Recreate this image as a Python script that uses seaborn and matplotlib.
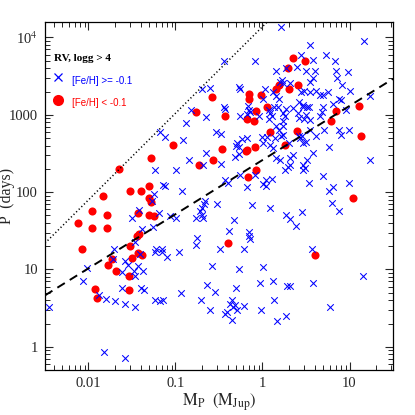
import numpy as np
import pandas as pd
import matplotlib
matplotlib.use("Agg")
import matplotlib.pyplot as plt
import seaborn as sns

# ---- data (log10 values) ----
red_log_mass = [-1.65, -1.83, -1.96, -1.79, -2.12, -1.96, -1.79, -2.07, -1.28, -1.03,
                -1.52, -1.40, -1.30, -1.30, -1.28, -1.43, -1.30, -1.25, -1.42, -1.44,
                -1.52, -1.73, -1.78, -1.68, -1.54, -1.53, -1.93, -1.90, -1.50, -1.43,
                -1.39, -0.58, -0.77, -0.43, -0.16, -0.15, -0.02, -0.07, 0.05, -0.18,
                -0.10, 0.09, 0.35, 0.49, 0.29, 0.19, 0.16, 0.30, 0.41, 0.84,
                1.11, 0.79, 0.40, 1.13, 0.26, 1.04, 0.60, -0.09, -0.18, -0.19,
                -0.47, -0.57, -0.73, -0.07, -0.17, -0.40]
red_log_period = [2.30, 1.95, 1.76, 1.71, 1.60, 1.54, 1.53, 1.27, 2.44, 2.61,
                  2.02, 2.01, 2.08, 1.92, 1.87, 1.73, 1.71, 1.69, 1.46, 1.43,
                  1.31, 1.14, 1.06, 0.98, 0.91, 0.73, 0.75, 0.63, 1.15, 1.21,
                  1.19, 3.23, 3.04, 2.98, 3.27, 3.21, 3.26, 3.05, 3.10, 2.95,
                  2.92, 2.78, 3.74, 3.69, 3.60, 3.39, 3.33, 3.34, 3.39, 3.05,
                  3.11, 2.92, 2.79, 2.72, 2.61, 1.92, 1.19, 2.59, 2.55, 2.53,
                  2.56, 2.42, 2.35, 2.29, 2.19, 1.34]

blue_log_mass = [0.21, 0.55, 1.17, -0.44, -0.09, 0.44, 0.58, 0.73, 0.83, -0.70,
                 -0.60, -0.27, -0.26, 0.03, 0.01, 0.16, 0.27, 0.40, 0.50, 0.60,
                 0.85, 0.98, 0.58, 0.55, 0.86, 0.22, 0.20, 0.23, 0.32, 0.91,
                 0.48, 0.44, 0.55, 0.61, 0.66, 0.75, 0.70, 1.01, 1.24, 0.88,
                 0.90, 0.12, 0.16, 0.19, -0.82, -0.65, -0.44, -0.43, -0.88, -1.18,
                 -1.12, -0.53, -0.48, -0.91, -0.17, -0.16, -0.14, -0.18, -0.04, -0.26,
                 0.07, 0.09, 0.13, 0.08, 0.18, -0.24, -0.18, -0.01, 0.05, 0.16,
                 0.27, 0.35, 0.42, 0.47, 0.46, 0.51, 0.54, 0.70, 0.81, 0.96,
                 0.24, 0.26, 0.41, 0.42, 0.50, 0.48, 0.68, 0.66, 0.55, 0.23,
                 0.24, 0.11, 0.19, 0.23, 0.21, 0.55, 0.71, 0.88, 0.99, 0.45,
                 0.42, 0.90, 0.62, 0.14, -0.29, -0.30, -0.27, 0.01, 0.09, 0.12,
                 0.30, 0.43, 0.47, 0.50, 0.35, 0.32, 0.16, 0.20, 0.58, 0.76,
                 1.24, 0.32, 0.29, 0.26, 0.51, 0.47, 0.49, 0.46, 0.70, 0.11,
                 0.53, 0.99, 0.81, 0.77, 0.80, 0.88, 0.09, 0.45, 0.27, 0.32,
                 0.39, 0.57, -0.65, -0.84, -0.99, -1.24, -0.68, -0.48, -0.27, -0.32,
                 -1.14, -1.12, -0.92, -1.25, -0.43, -0.40, -0.26, -0.18, -0.09, 0.04,
                 0.01, 0.04, -0.66, -0.67, -1.27, -0.52, -0.12, -0.70, -0.72, -0.69,
                 -0.76, -0.68, -1.19, -1.06, -0.99, -0.33, -1.26, -0.39, -0.16, -0.15,
                 -0.14, -0.75, -0.76, -0.49, -0.21, -1.22, -1.16, -1.42, -1.50, -1.38,
                 -1.47, -1.71, -2.02, -2.06, -2.45, -1.72, -1.58, -1.55, -1.62, -1.48,
                 -1.43, -1.37, -1.47, -1.62, -1.40, -1.36, -1.88, -1.80, -1.70, -1.58,
                 -1.46, -1.24, -1.18, -1.14, -1.82, -1.58, -1.24, -1.16, -1.10, -1.41,
                 -0.96, -0.58, -0.27, 0.01, -0.64, -0.55, -0.30, -0.03, 0.12, -0.94,
                 -0.71, -0.60, -0.35, -0.37, -0.32, -0.34, -0.41, -0.43, -0.29, -0.21,
                 -0.02, 0.13, -0.35, 0.17, 0.28, 0.32, 0.58, 1.16, 0.78, 0.27]
blue_log_period = [4.14, 3.90, 3.95, 3.69, 3.69, 3.77, 3.71, 3.77, 3.69, 3.34,
                   3.35, 3.36, 3.33, 3.34, 3.21, 3.57, 3.60, 3.62, 3.56, 3.56,
                   3.56, 3.55, 3.47, 3.43, 3.47, 3.45, 3.42, 3.41, 3.41, 3.39,
                   3.31, 3.29, 3.29, 3.31, 3.25, 3.29, 3.26, 3.31, 3.24, 3.21,
                   3.19, 3.30, 3.24, 3.20, 3.06, 2.97, 3.10, 3.08, 2.89, 2.78,
                   2.71, 2.78, 2.75, 2.68, 3.11, 3.06, 3.03, 3.01, 2.98, 2.98,
                   3.06, 3.02, 3.10, 2.95, 3.10, 2.69, 2.70, 2.71, 2.71, 2.85,
                   3.08, 3.09, 3.17, 3.13, 3.10, 3.10, 3.10, 3.10, 3.14, 3.06,
                   3.02, 2.98, 3.02, 2.96, 3.00, 2.95, 3.03, 2.98, 2.93, 2.92,
                   2.86, 2.98, 2.80, 2.74, 2.73, 2.80, 2.80, 2.80, 2.80, 2.72,
                   2.72, 2.74, 2.72, 2.70, 2.64, 2.60, 2.59, 2.63, 2.61, 2.57,
                   2.63, 2.70, 2.63, 2.65, 2.48, 2.44, 2.44, 2.41, 2.51, 2.59,
                   2.41, 2.35, 2.32, 2.29, 2.41, 2.35, 2.31, 2.28, 2.21, 2.17,
                   2.12, 2.12, 2.06, 2.01, 1.86, 1.76, 1.80, 1.74, 1.70, 1.65,
                   1.56, 1.27, 2.51, 2.41, 2.28, 2.29, 2.35, 2.37, 2.49, 2.45,
                   2.09, 2.08, 2.02, 1.98, 2.16, 2.12, 2.22, 2.07, 2.22, 2.16,
                   2.11, 2.08, 1.88, 1.85, 1.88, 1.85, 1.83, 1.79, 1.75, 1.70,
                   1.67, 1.67, 1.73, 1.69, 1.67, 1.64, 1.55, 1.50, 1.48, 1.43,
                   1.39, 1.41, 1.32, 1.27, 1.27, 1.27, 1.27, 1.77, 1.66, 1.52,
                   1.35, 1.27, 1.02, 0.85, 0.51, 1.13, 1.11, 1.06, 0.97, 0.98,
                   1.05, 0.98, 0.92, 0.76, 0.76, 0.74, 0.67, 0.62, 0.59, 0.56,
                   0.51, 0.61, 0.59, 0.60, -0.07, -0.14, 1.23, 1.23, 1.16, 1.20,
                   1.23, 1.04, 1.01, 1.03, 0.80, 0.71, 0.76, 0.83, 0.85, 0.69,
                   0.60, 0.48, 0.61, 0.55, 0.54, 0.51, 0.45, 0.43, 0.48, 0.53,
                   0.48, 0.61, 0.35, 0.33, 0.79, 0.79, 0.82, 0.92, 0.51, 0.40]

# reference lines: log P = intercept + slope * log M
dashed_slope, dashed_intercept = 0.70, 2.415
dotted_slope, dotted_intercept = 1.12, 4.14

x_ticks = [0.01, 0.1, 1, 10]
x_tick_labels = ["0.01", "0.1", "1", "10"]
y_ticks = [1, 10, 100, 1000, 10000]
y_tick_labels = ["1", "10", "100", "1000", r"10$^4$"]

red_df = pd.DataFrame({"mass": 10 ** np.array(red_log_mass),
                       "period": 10 ** np.array(red_log_period)})
blue_df = pd.DataFrame({"mass": 10 ** np.array(blue_log_mass),
                        "period": 10 ** np.array(blue_log_period)})

sns.set_style("ticks")
plt.rcParams["font.family"] = ["Liberation Serif", "DejaVu Serif"]
plt.rcParams["mathtext.fontset"] = "stix"

fig = plt.figure(figsize=(4.15, 4.15), dpi=100)
ax = fig.add_axes([0.1084, 0.1084, 0.8386, 0.8386])
ax.set_xscale("log")
ax.set_yscale("log")
ax.set_xlim(10 ** -2.5, 10 ** 1.5)
ax.set_ylim(10 ** -0.3, 10 ** 4.2)

sns.scatterplot(data=red_df, x="mass", y="period", ax=ax, color="#ff0000",
                marker="o", s=34, linewidth=0, zorder=2, legend=False)
sns.scatterplot(data=blue_df, x="mass", y="period", ax=ax, color="#0000ff",
                marker="x", s=22, linewidth=0.75, zorder=3, legend=False)

lx = np.linspace(-2.5, 1.5, 200)
ax.plot(10 ** lx, 10 ** (dashed_intercept + dashed_slope * lx), color="black",
        lw=1.4, dashes=(4.5, 3), zorder=4)
ax.plot(10 ** lx, 10 ** (dotted_intercept + dotted_slope * lx), color="black",
        lw=1.1, dashes=(0.8, 1.6), zorder=4)

ax.set_xticks(x_ticks)
ax.set_xticklabels(x_tick_labels)
ax.set_yticks(y_ticks)
ax.set_yticklabels(y_tick_labels)
ax.tick_params(which="both", direction="in", top=True, right=True)
ax.tick_params(which="major", length=6, width=0.8, labelsize=10.5, pad=5)
ax.tick_params(which="minor", length=3.5, width=0.7)
for sp in ax.spines.values():
    sp.set_linewidth(0.9)
    sp.set_color("black")

ax.set_xlabel(r"$\mathrm{M_P\ \ (M_{Jup})}$", fontsize=12)
ax.xaxis.set_label_coords(0.5, -0.062)
ax.set_ylabel("P  (days)", fontsize=11.5, va="center")
ax.yaxis.set_label_coords(-0.108, 0.5)

# in-plot legend
ax.text(0.026, 0.894, "RV, logg > 4", transform=ax.transAxes, fontsize=8,
        fontweight="bold", va="center", ha="left", color="black")
ax.plot([0.037], [0.842], transform=ax.transAxes, marker="x", color="#0000ff",
        ms=6, mew=0.9, ls="none")
ax.text(0.078, 0.830, "[Fe/H] >= -0.1", transform=ax.transAxes, fontsize=7,
        family="Liberation Sans", color="#0000ff", va="center", ha="left")
ax.plot([0.037], [0.776], transform=ax.transAxes, marker="o", color="#ff0000",
        ms=8, mew=0, ls="none")
ax.text(0.078, 0.767, "[Fe/H] < -0.1", transform=ax.transAxes, fontsize=7,
        family="Liberation Sans", color="#ff0000", va="center", ha="left")

fig.savefig("out.png", dpi=100)
